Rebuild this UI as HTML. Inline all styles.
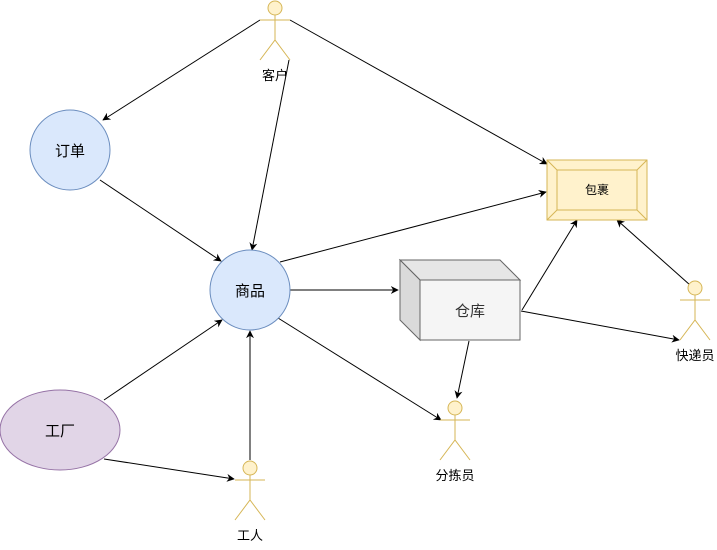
<!DOCTYPE html>
<html><head><meta charset="utf-8"><style>
html,body{margin:0;padding:0;background:#fff;}
svg text{font-family:"Liberation Sans","Noto Sans CJK SC",sans-serif;}
</style></head><body>
<svg width="717" height="545" viewBox="0 0 717 545" xmlns="http://www.w3.org/2000/svg">
<defs>
<marker id="a" viewBox="0 0 10 10" refX="9" refY="5" markerWidth="8" markerHeight="8" orient="auto" markerUnits="userSpaceOnUse">
<path d="M0,0 L10,5 L0,10 L3,5 Z" fill="#000"/>
</marker>
</defs>
<g stroke="#000" stroke-width="1" fill="none" marker-end="url(#a)">
<line x1="260" y1="20" x2="103" y2="120"/>
<line x1="290" y1="20" x2="547" y2="164"/>
<line x1="289" y1="60" x2="252" y2="250"/>
<line x1="100" y1="180" x2="221" y2="261"/>
<line x1="280" y1="262" x2="546" y2="192"/>
<line x1="290" y1="290" x2="398" y2="290"/>
<line x1="278" y1="318" x2="441" y2="420"/>
<line x1="104" y1="400" x2="222" y2="320"/>
<line x1="104" y1="459" x2="234" y2="479"/>
<line x1="250" y1="460" x2="250" y2="331"/>
<line x1="522" y1="310" x2="577" y2="220"/>
<line x1="521" y1="311" x2="679" y2="340"/>
<line x1="690" y1="285" x2="617" y2="220"/>
<line x1="469" y1="341" x2="457" y2="398"/>
</g>
<!-- ellipses -->
<ellipse cx="70" cy="150" rx="40" ry="40" fill="#dae8fc" stroke="#6c8ebf"/>
<text x="70" y="156" font-size="15" text-anchor="middle">订单</text>
<ellipse cx="250" cy="290" rx="40" ry="40" fill="#dae8fc" stroke="#6c8ebf"/>
<text x="250" y="296" font-size="15" text-anchor="middle">商品</text>
<ellipse cx="60" cy="430" rx="60" ry="40" fill="#e1d5e7" stroke="#9673a6"/>
<text x="60" y="436" font-size="15" text-anchor="middle">工厂</text>
<!-- package -->
<g stroke="#d6b656" fill="#fff2cc">
<rect x="547" y="160" width="100" height="60"/>
<rect x="557" y="170" width="80" height="40"/>
<line x1="547" y1="160" x2="557" y2="170"/>
<line x1="647" y1="160" x2="637" y2="170"/>
<line x1="547" y1="220" x2="557" y2="210"/>
<line x1="647" y1="220" x2="637" y2="210"/>
</g>
<text x="597" y="194" font-size="12" text-anchor="middle">包裹</text>
<!-- warehouse -->
<g stroke="#666" fill="#f5f5f5">
<path d="M400,260 L500,260 L520,280 L420,280 Z" fill="#e6e6e6"/>
<path d="M400,260 L420,280 L420,340 L400,320 Z" fill="#dadada"/>
<rect x="420" y="280" width="100" height="60" fill="#f5f5f5"/>
</g>
<text x="470" y="316" font-size="15" text-anchor="middle" fill="#333">仓库</text>
<!-- actors -->
<g stroke="#d6b656" fill="#fff2cc">
<g transform="translate(275,0)"><circle cx="0" cy="8" r="7"/><line x1="0" y1="15" x2="0" y2="40"/><line x1="-15" y1="20" x2="15" y2="20"/><path d="M-15,60 L0,40 L15,60" fill="none"/></g>
<g transform="translate(695,280)"><circle cx="0" cy="8" r="7"/><line x1="0" y1="15" x2="0" y2="40"/><line x1="-15" y1="20" x2="15" y2="20"/><path d="M-15,60 L0,40 L15,60" fill="none"/></g>
<g transform="translate(455,400)"><circle cx="0" cy="8" r="7"/><line x1="0" y1="15" x2="0" y2="40"/><line x1="-15" y1="20" x2="15" y2="20"/><path d="M-15,60 L0,40 L15,60" fill="none"/></g>
<g transform="translate(250,460)"><circle cx="0" cy="8" r="7"/><line x1="0" y1="15" x2="0" y2="40"/><line x1="-15" y1="20" x2="15" y2="20"/><path d="M-15,60 L0,40 L15,60" fill="none"/></g>
</g>
<g font-size="13" text-anchor="middle">
<text x="275" y="80">客户</text>
<text x="695" y="360">快递员</text>
<text x="455" y="480">分拣员</text>
<text x="250" y="540">工人</text>
</g>
</svg>
</body></html>
